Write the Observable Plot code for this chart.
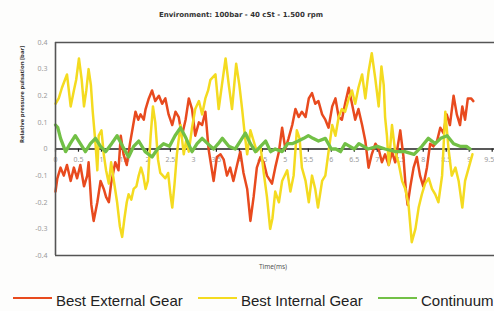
<!DOCTYPE html>
<html>
<head>
<meta charset="utf-8">
<script src="https://cdn.jsdelivr.net/npm/d3@7"></script>
<script src="https://cdn.jsdelivr.net/npm/@observablehq/plot@0.6"></script>
<style>
  body { margin: 0; background: #fff; font-family: "Liberation Sans", Arial, sans-serif; }
  #wrap { position: relative; width: 494px; height: 311px; overflow: hidden; background: #fdfdfc; }
  #title { position: absolute; top: 11px; left: 0; width: 482px; text-align: center; font: bold 7px "DejaVu Sans", sans-serif; color: #333; }
  #chart { position: absolute; top: 30px; left: 0; }
  .leg { position: absolute; top: 292px; font: 15px "Liberation Sans", Arial, sans-serif; color: #222; white-space: nowrap; }
  .sw { position: absolute; top: 297px; height: 2px; width: 39px; }
</style>
</head>
<body>
<div id="wrap">
  <div id="title">Environment: 100bar - 40 cSt - 1.500 rpm</div>
  <div id="chart"></div>
</div>
<script>
const seriesNames = ["Best External Gear", "Best Internal Gear", "Continuum"];
const seriesColors = ["#e84a1e", "#f4db20", "#72c046"];

const extT = [0.00,0.04,0.11,0.18,0.25,0.33,0.40,0.47,0.54,0.62,0.69,0.72,0.78,0.83,0.91,0.98,1.05,1.10,1.16,1.21,1.30,1.37,1.42,1.48,1.55,1.62,1.68,1.74,1.80,1.85,1.92,1.96,2.03,2.10,2.17,2.25,2.32,
  2.39,2.46,2.54,2.61,2.68,2.75,2.83,2.90,2.97,3.04,3.12,3.19,3.26,3.33,3.44,3.51,3.59,3.66,3.73,3.80,3.87,3.95,4.02,4.09,4.17,4.24,4.31,4.38,4.46,4.53,4.60,4.71,
  4.78,4.86,4.93,5.00,5.07,5.15,5.22,5.29,5.36,5.44,5.51,5.58,5.65,5.72,5.80,5.87,5.94,6.02,6.09,6.16,6.23,6.30,6.38,6.45,6.52,6.59,6.67,6.74,6.81,6.88,6.96,7.03,7.10,
  7.17,7.25,7.32,7.39,7.50,7.57,7.62,7.66,7.72,7.79,7.86,7.93,8.00,8.08,8.15,8.22,8.30,8.37,8.44,8.51,8.58,8.66,8.73,8.80,8.85,8.91,8.97,9.04,9.09];
const extV = [-0.16,-0.11,-0.07,-0.10,-0.06,-0.12,-0.07,-0.11,-0.06,-0.14,-0.10,-0.05,-0.21,-0.27,-0.20,-0.12,-0.15,-0.18,-0.20,-0.13,-0.05,-0.08,0.05,-0.02,-0.06,0.02,0.08,0.14,0.11,0.13,0.11,0.15,0.19,0.22,0.18,0.20,0.17,
  0.19,0.13,0.09,0.14,0.12,0.05,0.11,0.19,0.15,0.05,0.10,0.09,0.14,0.00,-0.12,-0.03,-0.02,-0.04,-0.10,-0.07,-0.12,-0.06,-0.01,-0.09,-0.15,-0.27,-0.18,-0.07,-0.03,-0.05,-0.10,-0.13,
  -0.07,-0.01,0.08,0.00,0.04,0.09,0.15,0.12,0.14,0.12,0.19,0.21,0.17,0.18,0.13,0.11,0.08,0.16,0.19,0.12,0.11,0.17,0.23,0.17,0.11,0.15,0.09,0.03,-0.07,-0.02,0.02,0.00,-0.05,
  -0.02,-0.06,-0.01,-0.05,0.07,-0.03,-0.15,-0.21,-0.14,-0.07,-0.03,-0.10,-0.14,-0.07,0.02,0.01,0.03,0.08,0.06,0.13,0.09,0.20,0.13,0.09,0.16,0.11,0.19,0.19,0.18];

const intT = [0.00,0.07,0.14,0.25,0.33,0.40,0.45,0.51,0.57,0.62,0.67,0.72,0.77,0.81,0.87,0.91,0.94,1.00,1.05,1.10,1.16,1.21,1.27,1.34,1.40,1.45,1.50,1.55,1.59,1.65,1.70,1.76,1.81,1.86,1.91,1.96,2.01,2.07,2.12,2.17,2.23,2.28,
  2.39,2.45,2.50,2.54,2.59,2.64,2.72,2.79,2.84,2.90,2.97,3.04,3.12,3.19,3.26,3.32,3.37,3.48,3.55,3.62,3.70,3.77,3.84,3.93,4.00,4.06,4.12,4.17,4.24,4.31,4.38,4.46,4.53,4.60,4.67,4.72,
  4.78,4.86,4.93,5.04,5.11,5.18,5.25,5.31,5.36,5.44,5.51,5.58,5.65,5.71,5.80,5.87,5.94,6.02,6.09,6.16,6.23,6.30,6.38,6.45,6.52,6.59,6.67,6.74,6.81,6.88,6.96,7.03,7.09,7.14,
  7.17,7.21,7.25,7.32,7.39,7.46,7.54,7.61,7.68,7.75,7.83,7.90,7.97,8.04,8.12,8.19,8.26,8.33,8.41,8.48,8.55,8.62,8.70,8.77,8.85,8.91,8.99,9.07];
const intV = [0.17,0.19,0.23,0.28,0.16,0.22,0.26,0.34,0.26,0.16,0.22,0.30,0.24,0.14,0.02,-0.08,0.05,0.07,-0.02,-0.08,-0.13,-0.05,-0.12,-0.20,-0.29,-0.33,-0.26,-0.20,-0.17,-0.19,-0.15,-0.14,-0.10,-0.07,-0.10,-0.15,-0.12,0.05,0.16,0.10,-0.04,-0.09,
  -0.11,-0.09,-0.17,-0.22,-0.13,-0.02,0.09,-0.02,0.03,-0.01,0.08,0.15,0.18,0.13,0.19,0.22,0.26,0.28,0.15,0.24,0.34,0.24,0.15,0.32,0.24,0.15,0.05,-0.02,0.07,0.03,-0.01,0.01,-0.09,-0.18,-0.30,-0.26,
  -0.16,-0.20,-0.12,-0.08,-0.16,-0.10,0.07,0.04,-0.07,-0.12,-0.20,-0.10,-0.15,-0.22,-0.12,-0.10,-0.01,0.09,0.05,0.12,0.15,0.14,0.19,0.22,0.17,0.23,0.28,0.19,0.29,0.36,0.26,0.16,0.31,0.24,
  0.12,0.05,-0.06,0.09,-0.01,-0.05,-0.12,-0.15,-0.21,-0.35,-0.30,-0.22,-0.17,-0.13,-0.11,-0.15,-0.17,-0.20,-0.10,0.14,0.00,-0.10,-0.07,-0.12,-0.22,-0.12,-0.07,-0.02];

const conT = [0.00,0.05,0.11,0.22,0.32,0.43,0.54,0.65,0.76,0.87,0.98,1.09,1.22,1.34,1.46,1.59,1.70,1.81,1.95,2.10,2.22,2.35,2.48,2.60,2.72,2.84,2.97,3.08,3.19,3.31,3.44,3.54,3.63,3.77,3.91,4.02,4.13,4.24,4.35,4.46,4.57,4.68,
  4.78,4.93,5.05,5.15,5.28,5.40,5.50,5.60,5.72,5.87,6.00,6.10,6.20,6.30,6.50,6.60,6.80,7.00,7.17,7.40,7.60,7.80,7.97,8.11,8.26,8.38,8.52,8.66,8.80,8.94,9.02];
const conV = [0.09,0.08,0.04,-0.01,0.02,0.05,0.02,-0.01,0.02,0.04,0.01,-0.01,0.02,0.05,0.01,-0.03,0.01,0.03,-0.01,-0.03,0.00,0.02,0.01,0.05,0.08,0.04,-0.01,0.02,0.04,0.02,0.00,0.02,0.04,0.01,0.00,0.03,0.06,0.02,-0.01,0.01,0.03,-0.01,
  0.00,-0.01,0.02,0.02,0.03,0.04,0.05,0.04,0.03,0.04,0.00,0.00,-0.01,0.02,0.00,0.02,0.00,0.01,0.00,-0.01,-0.01,-0.02,0.01,0.04,0.02,0.04,0.05,0.02,0.01,0.01,0.00];

const xTicks = [0,0.5,1,1.5,2,2.5,3,3.5,4,4.5,5,5.5,6,6.5,7,7.5,8,8.5,9,9.5];
const yTicks = [0.4,0.3,0.2,0.1,0,-0.1,-0.2,-0.3,-0.4];

const toRows = (T, V) => T.map((t, i) => ({t, v: V[i]}));
const ext = toRows(extT, extV), inn = toRows(intT, intV), con = toRows(conT, conV);
const innerTicks = xTicks.slice(0, -1);
const lastTick = xTicks.slice(-1);

const chart = Plot.plot({
  width: 494, height: 245,
  marginLeft: 55, marginRight: 0, marginTop: 12, marginBottom: 20,
  style: {background: "transparent"},
  x: {domain: [0, 9.55], axis: null},
  y: {domain: [-0.4, 0.4], axis: null},
  marks: [
    Plot.rect([0], {x1: 0, x2: 9.55, y1: -0.4, y2: 0.4, fill: "#fff"}),
    Plot.ruleY([0], {stroke: "#222", strokeWidth: 1.3}),
    Plot.ruleX(xTicks, {x: d => d, y1: 0, y2: -0.012, stroke: "#222", strokeWidth: 1.2}),
    Plot.text(innerTicks, {x: d => d, y: 0, dy: 11, text: d => String(d), fontSize: 7, fill: "#9a9a9a"}),
    Plot.text(lastTick, {x: d => d, y: 0, dy: 11, dx: 2, textAnchor: "end", text: d => String(d), fontSize: 7, fill: "#9a9a9a"}),
    Plot.text(yTicks, {x: 0, y: d => d, dx: -8, textAnchor: "end", text: d => d === 0 ? "0" : d.toFixed(1), fontSize: 7, fill: "#9a9a9a"}),
    Plot.line(ext, {x: "t", y: "v", stroke: seriesColors[0], strokeWidth: 2.5, curve: "linear"}),
    Plot.line(inn, {x: "t", y: "v", stroke: seriesColors[1], strokeWidth: 2.5, curve: "linear"}),
    Plot.line(con, {x: "t", y: "v", stroke: seriesColors[2], strokeWidth: 3.3, curve: "linear"}),
    Plot.ruleY([0.4, -0.4], {stroke: "#555", strokeWidth: 1.6}),
    Plot.ruleX([0], {y1: -0.4, y2: 0.4, stroke: "#555", strokeWidth: 1.6}),
    Plot.text(["Relative pressure pulsation [bar]"], {frameAnchor: "left", dx: -33, dy: -6, rotate: -90, text: d => d, fontSize: 6, fontWeight: "bold", fill: "#333"}),
    Plot.text(["Time(ms)"], {frameAnchor: "bottom", dx: -2, dy: 13, text: d => d, fontSize: 6.5, fill: "#555"})
  ]
});
document.getElementById("chart").appendChild(chart);

const wrap = document.getElementById("wrap");
const legPos = [[13, 56], [198, 241], [378, 421]];
seriesNames.forEach((name, i) => {
  const sw = document.createElement("div");
  sw.className = "sw";
  sw.style.left = legPos[i][0] + "px";
  sw.style.background = seriesColors[i];
  wrap.appendChild(sw);
  const lb = document.createElement("div");
  lb.className = "leg";
  lb.style.left = legPos[i][1] + "px";
  lb.textContent = name;
  wrap.appendChild(lb);
});
</script>
</body>
</html>
